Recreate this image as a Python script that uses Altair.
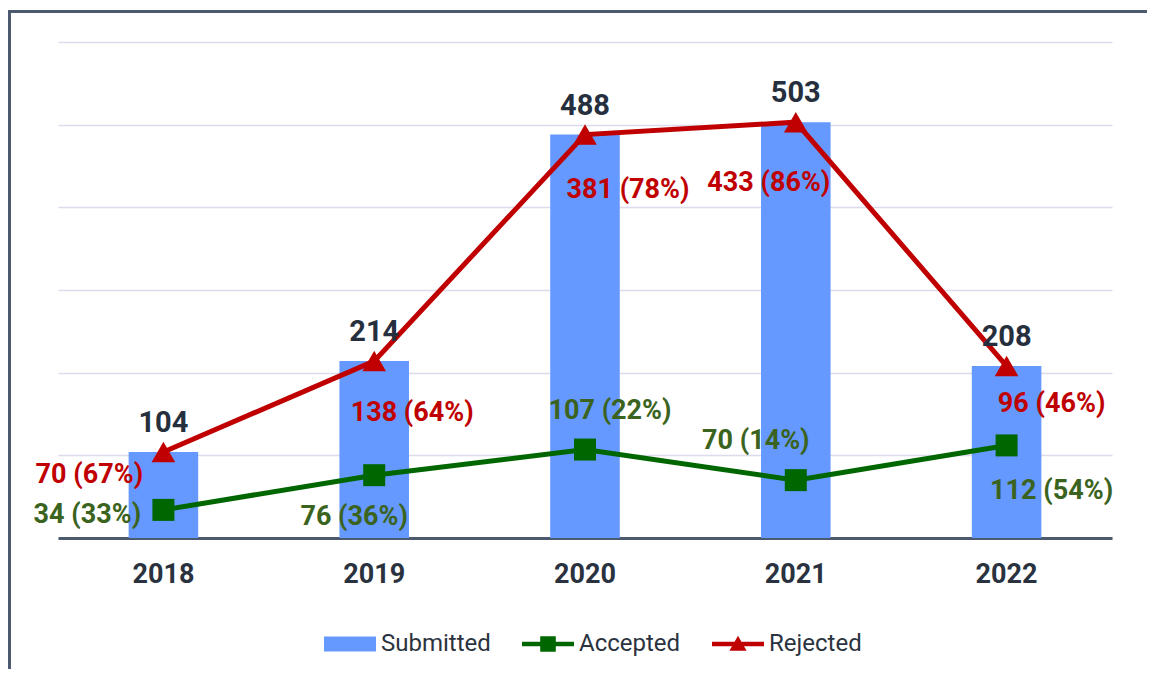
import altair as alt
import pandas as pd

# ---- data ----
years = ["2018", "2019", "2020", "2021", "2022"]
submitted = [104, 214, 488, 503, 208]
accepted = [34, 76, 107, 70, 112]
accepted_pct = [33, 36, 22, 14, 54]
rejected = [70, 138, 381, 433, 96]
rejected_pct = [67, 64, 78, 86, 46]
series = ["Submitted", "Accepted", "Rejected"]

# ---- styling ----
FONT = "Liberation Sans Narrow, Arial Narrow, Roboto, sans-serif"
BLUE, GREEN, RED = "#6699ff", "#006600", "#c00000"
GREEN_TXT, DARK = "#3b6320", "#262f3d"
W, H = 1054, 496
rej_offsets = [(-74, 23), (38, 52), (43, 55), (-27, 61), (45, 38)]
acc_offsets = [(-76, 5), (-20, 42), (25, -39), (-40, -39), (45, 46)]

df = pd.DataFrame({
    "year": years,
    "submitted": submitted,
    "accepted": accepted,
    "rejected": rejected,
})
df["acc_label"] = [f"{a} ({p}%)" for a, p in zip(accepted, accepted_pct)]
df["rej_label"] = [f"{r} ({p}%)" for r, p in zip(rejected, rejected_pct)]

x = alt.X("year:N", sort=years, title=None,
          scale=alt.Scale(paddingInner=0.67, paddingOuter=0.335))
yscale = alt.Scale(domain=[0, 600])

base = alt.Chart(df)

bars = base.mark_bar(color=BLUE).encode(
    x=x,
    y=alt.Y("submitted:Q", scale=yscale, title=None),
)

# red line sits on the bar tops in the reference
red_line = base.mark_line(color=RED, strokeWidth=5).encode(
    x=x, y=alt.Y("submitted:Q", scale=yscale, title=None))
red_pts = base.mark_point(shape="triangle-up", filled=True, size=560, color=RED, opacity=1).encode(
    x=x, y=alt.Y("submitted:Q", scale=yscale, title=None))
green_line = base.mark_line(color=GREEN, strokeWidth=5).encode(
    x=x, y=alt.Y("accepted:Q", scale=yscale, title=None))
green_pts = base.mark_point(shape="square", filled=True, size=484, color=GREEN, opacity=1).encode(
    x=x, y=alt.Y("accepted:Q", scale=yscale, title=None))

sub_text = base.mark_text(font=FONT, fontSize=29, fontWeight="bold", color=DARK,
                          baseline="middle", dy=-29).encode(
    x=x, y=alt.Y("submitted:Q", scale=yscale, title=None), text="submitted:Q")

layers = [bars, red_line, green_line, red_pts, green_pts, sub_text]

for yr, (dx, dy) in zip(years, rej_offsets):
    layers.append(
        base.transform_filter(alt.datum.year == yr).mark_text(
            font=FONT, fontSize=27, fontWeight="bold", color=RED,
            baseline="middle", align="center", dx=dx, dy=dy).encode(
            x=x, y=alt.Y("submitted:Q", scale=yscale, title=None), text="rej_label:N"))
for yr, (dx, dy) in zip(years, acc_offsets):
    layers.append(
        base.transform_filter(alt.datum.year == yr).mark_text(
            font=FONT, fontSize=27, fontWeight="bold", color=GREEN_TXT,
            baseline="middle", align="center", dx=dx, dy=dy).encode(
            x=x, y=alt.Y("accepted:Q", scale=yscale, title=None), text="acc_label:N"))

# frame lines (left and top edge of the card)
frame_left = alt.Chart(df).mark_rule(color="#4b5a6e", strokeWidth=3).encode(
    x=alt.value(-48.5), y=alt.value(-32), y2=alt.value(H + 200))
frame_top = alt.Chart(df).mark_rule(color="#4b5a6e", strokeWidth=3).encode(
    x=alt.value(-50), x2=alt.value(W + 100), y=alt.value(-30.5))
layers += [frame_left, frame_top]

# legend
paths = [
    "M-1,-0.29H1V0.29H-1Z",
    "M-1,-0.09H1V0.09H-1Z M-0.3,-0.3H0.3V0.3H-0.3Z",
    "M-1,-0.09H1V0.09H-1Z M0,-0.32L0.33,0.26H-0.33Z",
]
legend_df = pd.DataFrame({"series": series})
leg = alt.Legend(orient="none", legendX=266, legendY=576, direction="horizontal",
                 title=None, symbolSize=2704, symbolStrokeWidth=0, symbolOpacity=1,
                 labelFont=FONT, labelFontSize=24, labelColor="#2b3340",
                 labelOffset=5, columnPadding=31, padding=0)
legend_layer = alt.Chart(legend_df).mark_point(filled=True, clip=True, opacity=1).encode(
    x=alt.value(0), y=alt.value(-3000),
    color=alt.Color("series:N", scale=alt.Scale(domain=series, range=[BLUE, GREEN, RED]), legend=leg),
    shape=alt.Shape("series:N", scale=alt.Scale(domain=series, range=paths), legend=leg),
)
layers.append(legend_layer)

chart = alt.layer(*layers).properties(
    width=W, height=H,
    autosize=alt.AutoSizeParams(type="none"),
    padding={"left": 50, "top": 34, "right": 35, "bottom": 131},
).configure_view(stroke=None).configure_axisX(
    labelFont=FONT, labelFontSize=27, labelFontWeight="bold", labelColor="#2a3240",
    labelAngle=0, labelPadding=23, ticks=False, domainColor="#4b5a6e", domainWidth=3,
    grid=False, zindex=1,
).configure_axisY(
    labels=False, ticks=False, domain=False, grid=True, gridColor="#dcdcec",
    gridWidth=1.5, tickCount=6, values=[0, 100, 200, 300, 400, 500, 600],
)

chart.save("out.html", embed_options={"renderer": "svg", "actions": False})
